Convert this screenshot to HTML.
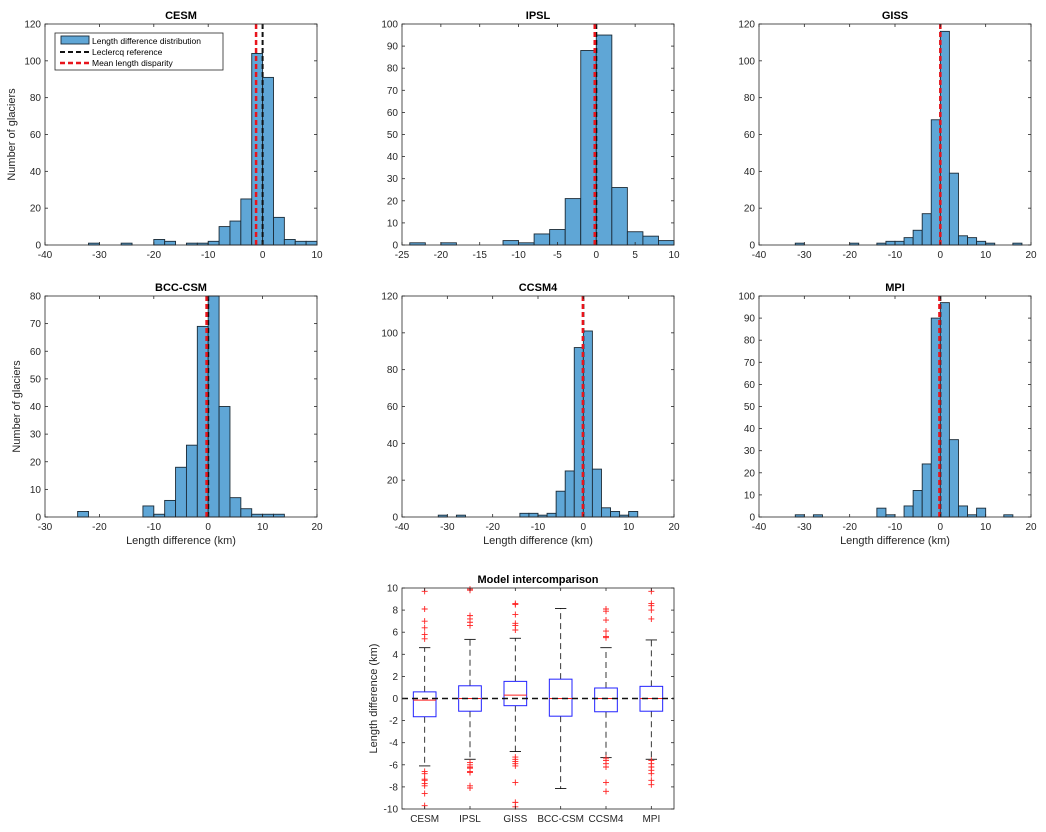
<!DOCTYPE html>
<html><head><meta charset="utf-8"><style>
html,body{margin:0;padding:0;background:#fff;}
svg{display:block;font-family:"Liberation Sans",sans-serif;}
</style></head><body>
<svg id="fig" width="1046" height="832"></svg>
<script>
// ---- Histogram data (bin start, count), bin width 2 km ----
const cesmBins = [-32,-26,-20,-18,-14,-12,-10,-8,-6,-4,-2,0,2,4,6,8];
const cesmCounts = [1,1,3,2,1,1,2,10,13,25,104,91,15,3,2,2];
const ipslBins = [-24,-20,-12,-10,-8,-6,-4,-2,0,2,4,6,8];
const ipslCounts = [1,1,2,1,5,7,21,88,95,26,6,4,2];
const gissBins = [-32,-20,-14,-12,-10,-8,-6,-4,-2,0,2,4,6,8,10,16];
const gissCounts = [1,1,1,2,2,4,8,17,68,116,39,5,4,2,1,1];
const bccBins = [-24,-12,-10,-8,-6,-4,-2,0,2,4,6,8,10,12];
const bccCounts = [2,4,1,6,18,26,69,80,40,7,3,1,1,1];
const ccsmBins = [-32,-28,-14,-12,-10,-8,-6,-4,-2,0,2,4,6,8,10];
const ccsmCounts = [1,1,2,2,1,2,14,25,92,101,26,5,3,1,3];
const mpiBins = [-32,-28,-14,-12,-8,-6,-4,-2,0,2,4,6,8,14];
const mpiCounts = [1,1,4,1,5,12,24,90,97,35,5,1,4,1];
const meanDisparity = [-1.2,-0.2,0,-0.3,-0.1,-0.2];
const xTicksA = [-40,-30,-20,-10,0,10];
const xTicksB = [-25,-20,-15,-10,-5,0,5,10];
const xTicksC = [-40,-30,-20,-10,0,10,20];
const xTicksD = [-30,-20,-10,0,10,20];
const yTicks120 = [0,20,40,60,80,100,120];
const yTicks100 = [0,10,20,30,40,50,60,70,80,90,100];
const yTicks80 = [0,10,20,30,40,50,60,70,80];
// ---- Box plot data ----
const models = ["CESM","IPSL","GISS","BCC-CSM","CCSM4","MPI"];
const q1 = [-1.65,-1.15,-0.65,-1.6,-1.2,-1.15];
const medians = [-0.15,0,0.3,0,0,0];
const q3 = [0.6,1.15,1.55,1.75,0.95,1.1];
const whiskLo = [-6.1,-5.5,-4.8,-8.15,-5.35,-5.5];
const whiskHi = [4.6,5.35,5.45,8.15,4.6,5.3];
const outliers = [
 [9.7,8.1,7,6.4,5.8,5.4,-6.6,-6.8,-7.3,-7.4,-7.7,-7.9,-8.6,-9.7],
 [9.8,9.9,7.5,7.2,6.9,6.6,-5.8,-6,-6.2,-6.3,-6.6,-6.7,-7.9,-8.1],
 [8.6,8.5,7.6,6.8,6.6,6.2,-5.3,-5.5,-5.7,-5.9,-6.1,-7.6,-9.4,-9.8],
 [],
 [8.1,7.9,7.1,6.1,5.6,5.5,-5.4,-5.6,-5.9,-6.2,-7.6,-8.4],
 [9.7,8.6,8.4,8,7.2,-5.6,-5.9,-6.2,-6.5,-6.8,-7.4,-7.8]
];
const boxYTicks = [-10,-8,-6,-4,-2,0,2,4,6,8,10];

const NS="http://www.w3.org/2000/svg";
const svg=document.getElementById('fig');
function mk(tag,attrs,parent){const e=document.createElementNS(NS,tag);for(const k in attrs)e.setAttribute(k,attrs[k]);(parent||svg).appendChild(e);return e;}
function txt(s,attrs,parent){const e=mk('text',attrs,parent);e.textContent=s;return e;}

function axesFrame(g,L,T,W,H,xs,ys,xt,yt,name){
  const ax=mk('g',{},g);
  
  
  xt.forEach(v=>{const x=xs(v);
    mk('line',{x1:x,x2:x,y1:T+H,y2:T+H-3,stroke:'#262626','stroke-width':0.8},ax);
    mk('line',{x1:x,x2:x,y1:T,y2:T+3,stroke:'#262626','stroke-width':0.8},ax);
    const t=txt(String(v),{x:x,y:T+H+13,'font-size':10,'text-anchor':'middle',fill:'#262626'},ax);
    
    
  });
  yt.forEach(v=>{const y=ys(v);
    mk('line',{x1:L,x2:L+3,y1:y,y2:y,stroke:'#262626','stroke-width':0.8},ax);
    mk('line',{x1:L+W,x2:L+W-3,y1:y,y2:y,stroke:'#262626','stroke-width':0.8},ax);
    const t=txt(String(v),{x:L-4,y:y+3.5,'font-size':10,'text-anchor':'end',fill:'#262626'},ax);
    
    
  });
  mk('rect',{x:L,y:T,width:W,height:H,fill:'none',stroke:'#262626','stroke-width':0.8},ax);
}

function hist(opts){
  const {L,T,W,H,xmin,xmax,ymax,bins,counts,xt,yt,title,mean,name}=opts;
  const g=mk('g',{});
  
  
  const xs=v=>L+(v-xmin)/(xmax-xmin)*W;
  const ys=v=>T+H-v/ymax*H;
  bins.forEach((b,i)=>{
    const c=Math.min(counts[i],ymax);
    const r=mk('rect',{x:xs(b),y:ys(c),width:xs(b+2)-xs(b),height:ys(0)-ys(c),fill:'#5fa6d6',stroke:'#1a2a36','stroke-width':0.9},g);
    
    
  });
  const ref=mk('line',{x1:xs(0),x2:xs(0),y1:T,y2:T+H,stroke:'#111','stroke-width':2,'stroke-dasharray':'5,3'},g);
  
  
  const ml=mk('line',{x1:xs(mean),x2:xs(mean),y1:T,y2:T+H,stroke:'#e8141c','stroke-width':2.5,'stroke-dasharray':'5,3'},g);
  
  
  axesFrame(g,L,T,W,H,xs,ys,xt,yt,name);
  const t=txt(title,{x:L+W/2,y:T-5,'font-size':11,'font-weight':'bold','text-anchor':'middle',fill:'#000'},g);
  
  
  return g;
}

const row1T=24,row1H=221,row2T=296,row2H=221,W=272;
hist({L:45,T:row1T,W:W,H:row1H,xmin:-40,xmax:10,ymax:120,bins:cesmBins,counts:cesmCounts,xt:xTicksA,yt:yTicks120,title:'CESM',mean:meanDisparity[0],name:'cesm'});
hist({L:402,T:row1T,W:W,H:row1H,xmin:-25,xmax:10,ymax:100,bins:ipslBins,counts:ipslCounts,xt:xTicksB,yt:yTicks100,title:'IPSL',mean:meanDisparity[1],name:'ipsl'});
hist({L:759,T:row1T,W:W,H:row1H,xmin:-40,xmax:20,ymax:120,bins:gissBins,counts:gissCounts,xt:xTicksC,yt:yTicks120,title:'GISS',mean:meanDisparity[2],name:'giss'});
hist({L:45,T:row2T,W:W,H:row2H,xmin:-30,xmax:20,ymax:80,bins:bccBins,counts:bccCounts,xt:xTicksD,yt:yTicks80,title:'BCC-CSM',mean:meanDisparity[3],name:'bcc-csm'});
hist({L:402,T:row2T,W:W,H:row2H,xmin:-40,xmax:20,ymax:120,bins:ccsmBins,counts:ccsmCounts,xt:xTicksC,yt:yTicks120,title:'CCSM4',mean:meanDisparity[4],name:'ccsm4'});
hist({L:759,T:row2T,W:W,H:row2H,xmin:-40,xmax:20,ymax:100,bins:mpiBins,counts:mpiCounts,xt:xTicksC,yt:yTicks100,title:'MPI',mean:meanDisparity[5],name:'mpi'});

// axis titles
[[15,row1T+row1H/2],[20,row2T+row2H/2]].forEach(p=>{
  const t=txt('Number of glaciers',{x:p[0],y:p[1],'font-size':11,'text-anchor':'middle',fill:'#262626',transform:`rotate(-90 ${p[0]} ${p[1]})`});
  
  
});
[45,402,759].forEach(L=>{
  const t=txt('Length difference (km)',{x:L+W/2,y:544,'font-size':11,'text-anchor':'middle',fill:'#262626'});
  
  
});

// legend
const lg=mk('g',{});


mk('rect',{x:55,y:33,width:168,height:37,fill:'#fff',stroke:'#262626','stroke-width':0.8},lg);
mk('rect',{x:61,y:36,width:28,height:8,fill:'#5fa6d6',stroke:'#1a2a36','stroke-width':0.9},lg);
mk('line',{x1:60,x2:90,y1:52,y2:52,stroke:'#111','stroke-width':2,'stroke-dasharray':'5,3'},lg);
mk('line',{x1:60,x2:90,y1:63,y2:63,stroke:'#e8141c','stroke-width':2.5,'stroke-dasharray':'5,3'},lg);
[['Length difference distribution',44],['Leclercq reference',55],['Mean length disparity',66]].forEach(a=>{
  const t=txt(a[0],{x:92,y:a[1],'font-size':8.5,fill:'#000'},lg);
  
  
});

// ---- box plot ----
(function(){
  const L=402,T=588,Wb=272,H=221;
  const g=mk('g',{});
  
  
  const xs=i=>L+(i+1-0.5)/6*Wb;
  const ys=v=>T+H-(v+10)/20*H;
  const bw=Wb/6*0.5;
  models.forEach((m,i)=>{
    const x=xs(i);
    const bg=mk('g',{},g);
    
    
    mk('line',{x1:x,x2:x,y1:ys(q3[i]),y2:ys(whiskHi[i]),stroke:'#222','stroke-width':0.9,'stroke-dasharray':'6,4'},bg);
    mk('line',{x1:x,x2:x,y1:ys(q1[i]),y2:ys(whiskLo[i]),stroke:'#222','stroke-width':0.9,'stroke-dasharray':'6,4'},bg);
    mk('line',{x1:x-bw/4,x2:x+bw/4,y1:ys(whiskHi[i]),y2:ys(whiskHi[i]),stroke:'#111','stroke-width':0.9},bg);
    mk('line',{x1:x-bw/4,x2:x+bw/4,y1:ys(whiskLo[i]),y2:ys(whiskLo[i]),stroke:'#111','stroke-width':0.9},bg);
    mk('rect',{x:x-bw/2,y:ys(q3[i]),width:bw,height:ys(q1[i])-ys(q3[i]),fill:'none',stroke:'#2222ff','stroke-width':1},bg);
    mk('line',{x1:x-bw/2,x2:x+bw/2,y1:ys(medians[i]),y2:ys(medians[i]),stroke:'#ff2020','stroke-width':1},bg);
    outliers[i].forEach(v=>{
      const y=ys(v);
      const p=mk('path',{d:`M${x-3} ${y}H${x+3}M${x} ${y-3}V${y+3}`,stroke:'#ff2020','stroke-width':0.9,fill:'none'},bg);
      
      
    });
  });
  const zl=mk('line',{x1:L,x2:L+Wb,y1:ys(0),y2:ys(0),stroke:'#111','stroke-width':1.6,'stroke-dasharray':'6,4'},g);
  
  
  // frame/ticks
  boxYTicks.forEach(v=>{const y=ys(v);
    mk('line',{x1:L,x2:L+3,y1:y,y2:y,stroke:'#262626','stroke-width':0.8},g);
    mk('line',{x1:L+Wb,x2:L+Wb-3,y1:y,y2:y,stroke:'#262626','stroke-width':0.8},g);
    const t=txt(String(v),{x:L-4,y:y+3.5,'font-size':10,'text-anchor':'end',fill:'#262626'},g);
    
    
  });
  models.forEach((m,i)=>{const x=xs(i);
    mk('line',{x1:x,x2:x,y1:T+H,y2:T+H-3,stroke:'#262626','stroke-width':0.8},g);
    mk('line',{x1:x,x2:x,y1:T,y2:T+3,stroke:'#262626','stroke-width':0.8},g);
    const t=txt(m,{x:x,y:T+H+13,'font-size':10,'text-anchor':'middle',fill:'#262626'},g);
    
    
  });
  mk('rect',{x:L,y:T,width:Wb,height:H,fill:'none',stroke:'#262626','stroke-width':0.8},g);
  const tt=txt('Model intercomparison',{x:L+Wb/2,y:T-5,'font-size':11,'font-weight':'bold','text-anchor':'middle',fill:'#000'},g);
  
  
  const yl=txt('Length difference (km)',{x:377,y:T+H/2,'font-size':11,'text-anchor':'middle',fill:'#262626',transform:`rotate(-90 377 ${T+H/2})`},g);
  
  
})();
</script>
</body></html>
